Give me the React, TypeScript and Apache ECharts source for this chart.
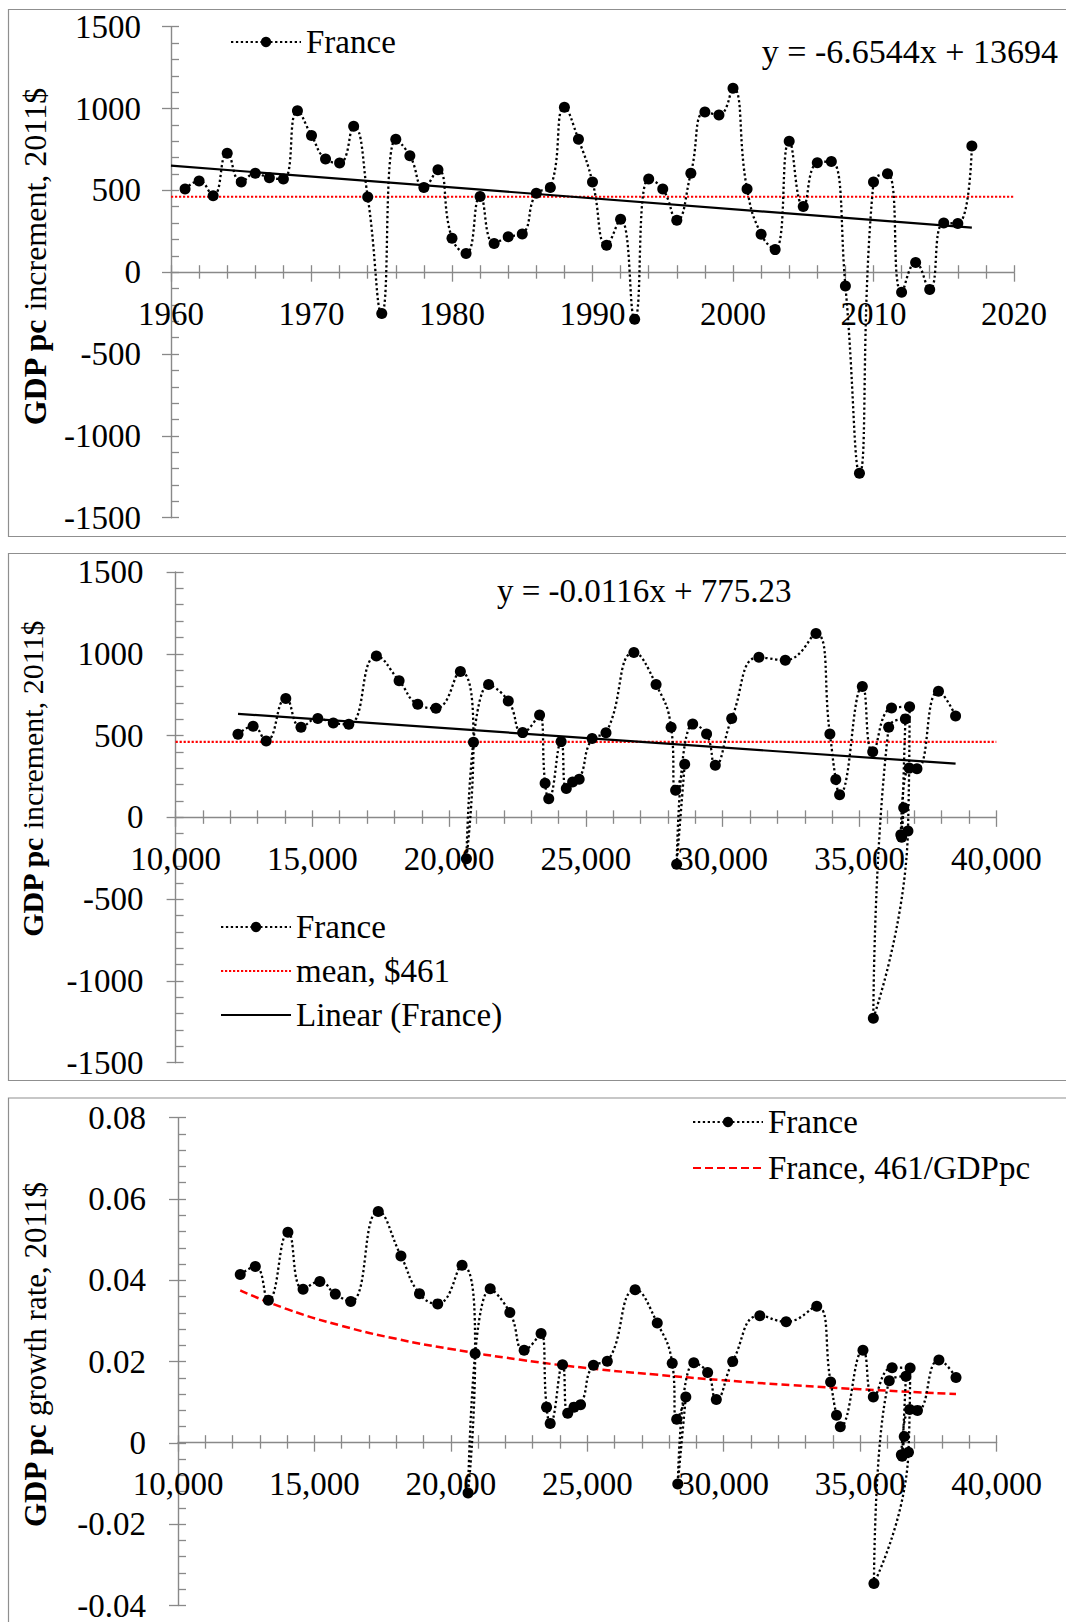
import React, { useEffect, useRef } from "react";
import * as echarts from "echarts";

// ---------------- data ----------------
const years = [
  1961, 1962, 1963, 1964, 1965, 1966, 1967, 1968, 1969, 1970,
  1971, 1972, 1973, 1974, 1975, 1976, 1977, 1978, 1979, 1980,
  1981, 1982, 1983, 1984, 1985, 1986, 1987, 1988, 1989, 1990,
  1991, 1992, 1993, 1994, 1995, 1996, 1997, 1998, 1999, 2000,
  2001, 2002, 2003, 2004, 2005, 2006, 2007, 2008, 2009, 2010,
  2011, 2012, 2013, 2014, 2015, 2016, 2017, 2018,
];

// GDP per capita increment, 2011$
const increment = [
  508, 557, 467, 727, 551, 604, 577, 569, 986, 835,
  692, 667, 892, 459, -253, 812, 712, 518, 626, 208,
  114, 463, 176, 216, 233, 482, 517, 1008, 812, 551,
  165, 324, -287, 570, 509, 318, 605, 979, 961, 1124,
  509, 232, 138, 800, 401, 669, 676, -84, -1228, 551,
  602, -122, 59, -106, 301, 297, 771, 620,
];

// GDP per capita level, 2011$
const gdpPc = [
  12281, 12833, 13312, 14028, 14584, 15198, 15765, 16331, 17340, 18170,
  18850, 19518, 20410, 20889, 20630, 21441, 22161, 22685, 23305, 23507,
  23640, 24092, 24282, 24512, 24753, 25225, 25733, 26753, 27564, 28113,
  28277, 28610, 28316, 28902, 29410, 29728, 30328, 31322, 32287, 33409,
  33917, 34133, 34272, 35102, 35482, 36170, 36831, 36770, 35505, 36066,
  36677, 36540, 36615, 36510, 36815, 37100, 37886, 38512,
];

// GDP per capita growth rate
const growthRate = [
  0.0414, 0.0434, 0.0351, 0.0518, 0.0378, 0.0397, 0.0366, 0.0348, 0.0569, 0.046,
  0.0367, 0.0342, 0.0437, 0.022, -0.0123, 0.0379, 0.0321, 0.0228, 0.0269, 0.0088,
  0.0048, 0.0192, 0.0073, 0.0088, 0.0094, 0.0191, 0.0201, 0.0377, 0.0295, 0.0196,
  0.0058, 0.0113, -0.0101, 0.0197, 0.0173, 0.0107, 0.02, 0.0313, 0.0298, 0.0336,
  0.015, 0.0068, 0.004, 0.0228, 0.0113, 0.0185, 0.0184, -0.0023, -0.0346, 0.0153,
  0.0164, -0.0033, 0.0016, -0.0029, 0.0082, 0.008, 0.0204, 0.0161,
];

const lastYearTopPanel = 2017;

const meanValue = 461;
const meanYearX = [1960, 2020];
const meanGdpX = [10000, 40000];

const trendYearX = [1960, 2017];
const trendYearY = [651, 272];
const trendGdpX = [12281, 38512];
const trendGdpY = [633, 328];

const ratioCurveX = [12281, 14000, 16000, 18000, 20000, 22500, 25000, 27500, 30000, 32500, 35000, 38512];
const ratioCurveY = [0.0375, 0.0329, 0.0288, 0.0256, 0.0231, 0.0205, 0.0184, 0.0168, 0.0154, 0.0142, 0.0132, 0.012];

const yearTicks = { min: 1960, max: 2020, interval: 10 };
const incrementTicks = { min: -1500, max: 1500, interval: 500 };
const gdpTicks = { min: 10000, max: 40000, interval: 5000 };
const growthTicks = { min: -0.04, max: 0.08, interval: 0.02 };

const equationTop = "y = -6.6544x + 13694";
const equationMiddle = "y = -0.0116x + 775.23";

// ---------------- styling / layout ----------------
const FONT = '"Liberation Serif", "Times New Roman", serif';
const AXIS_GRAY = "#898989";
const BORDER_GRAY = "#8f8f8f";
const LABEL_SIZE = 33;

const grids = [
  { left: 171, top: 26.7, width: 843, height: 491 },
  { left: 175.6, top: 572, width: 820.7, height: 490.7 },
  { left: 178, top: 1117.7, width: 818.6, height: 490 },
];

// distance from the grid's bottom edge up to the value 0 of its y axis
function zeroOffset(gridIdx: number, t: { min: number; max: number }) {
  return -grids[gridIdx].height * (0 - t.min) / (t.max - t.min);
}

const fmtPlain = (v: number) => String(v);
const fmtComma = (v: number) => v.toLocaleString("en-US");
const fmtRate = (v: number) => (Math.abs(v) < 1e-9 ? "0" : v.toFixed(2));

function mainAxis(dim: "x" | "y", gridIndex: number, t: any, formatter: any, margin: number, offset = 0) {
  const tickLine = { color: AXIS_GRAY, width: 1.3 };
  return {
    type: "value",
    gridIndex,
    position: dim === "x" ? "bottom" : "left",
    offset,
    min: t.min,
    max: t.max,
    interval: t.interval,
    axisLine: { show: true, onZero: false, lineStyle: { color: AXIS_GRAY, width: 1.4 } },
    axisTick: { show: true, inside: true, length: dim === "x" ? 7 : 8, lineStyle: tickLine },
    minorTick: { show: true, splitNumber: 5, length: dim === "x" ? 7 : 8, lineStyle: tickLine },
    axisLabel: {
      show: true,
      formatter,
      margin,
      color: "#000",
      fontSize: LABEL_SIZE,
      fontFamily: FONT,
      showMinLabel: true,
      showMaxLabel: true,
    },
    splitLine: { show: false },
    minorSplitLine: { show: false },
  };
}

function overlayAxis(dim: "x" | "y", gridIndex: number, t: any, offset = 0) {
  const tickLine = { color: AXIS_GRAY, width: 1.3 };
  return {
    type: "value",
    gridIndex,
    position: dim === "x" ? "bottom" : "left",
    offset,
    min: t.min,
    max: t.max,
    interval: t.interval,
    axisLine: { show: false, onZero: false },
    axisTick: { show: true, inside: false, length: dim === "x" ? 9.5 : 9, lineStyle: tickLine },
    minorTick: { show: dim === "x", splitNumber: 5, length: 6.5, lineStyle: tickLine },
    axisLabel: { show: false },
    splitLine: { show: false },
    minorSplitLine: { show: false },
  };
}

const franceLine = { color: "#000", width: 2.3, type: [2.3, 2.6] };
const meanLine = { color: "#ff0000", width: 2.2, type: [2.2, 1.8] };
const trendLine = { color: "#000", width: 2.2, type: "solid" };
const ratioLine = { color: "#ff0000", width: 2.5, type: [8, 4] };

function franceSeries(xi: number, yi: number, data: number[][]) {
  return {
    name: "France",
    type: "line",
    xAxisIndex: xi,
    yAxisIndex: yi,
    data,
    smooth: true,
    symbol: "circle",
    symbolSize: 11,
    showSymbol: true,
    showAllSymbol: true,
    itemStyle: { color: "#000" },
    lineStyle: franceLine,
    z: 4,
  };
}

function plainLine(name: string, xi: number, yi: number, data: number[][], style: any, smooth = false) {
  return {
    name,
    type: "line",
    xAxisIndex: xi,
    yAxisIndex: yi,
    data,
    smooth,
    symbol: "none",
    itemStyle: { color: style.color },
    lineStyle: style,
    z: 3,
  };
}

function yTitle(x: number, y: number, rest: string, size: number) {
  return {
    type: "text",
    x,
    y,
    rotation: Math.PI / 2,
    z: 10,
    style: {
      text: "{b|GDP pc }{n|" + rest + "}",
      rich: {
        b: { fontFamily: FONT, fontSize: size, fontWeight: "bold", fill: "#000" },
        n: { fontFamily: FONT, fontSize: size, fontWeight: "normal", fill: "#000" },
      },
      align: "center",
      verticalAlign: "middle",
      fill: "#000",
    },
  };
}

const legendText = { color: "#000", fontSize: LABEL_SIZE, fontFamily: FONT };

export default function App() {
  const ref = useRef<HTMLDivElement>(null);

  useEffect(() => {
    if (!ref.current) return;
    const chart = echarts.init(ref.current, undefined, { renderer: "svg" });

    const topData: number[][] = [];
    years.forEach((yr, i) => {
      if (yr <= lastYearTopPanel) topData.push([yr, increment[i]]);
    });
    const midData = gdpPc.map((g, i) => [g, increment[i]]);
    const botData = gdpPc.map((g, i) => [g, growthRate[i]]);

    const off0 = zeroOffset(0, incrementTicks);
    const off1 = zeroOffset(1, incrementTicks);
    const off2 = zeroOffset(2, growthTicks);

    const option: any = {
      animation: false,
      backgroundColor: "#fff",
      grid: grids,
      xAxis: [
        mainAxis("x", 0, yearTicks, fmtPlain, 25, off0),
        overlayAxis("x", 0, yearTicks, off0),
        mainAxis("x", 1, gdpTicks, fmtComma, 25, off1),
        overlayAxis("x", 1, gdpTicks, off1),
        mainAxis("x", 2, gdpTicks, fmtComma, 25, off2),
        overlayAxis("x", 2, gdpTicks, off2),
      ],
      yAxis: [
        mainAxis("y", 0, incrementTicks, fmtPlain, 30),
        overlayAxis("y", 0, incrementTicks),
        mainAxis("y", 1, incrementTicks, fmtPlain, 32),
        overlayAxis("y", 1, incrementTicks),
        mainAxis("y", 2, growthTicks, fmtRate, 32),
        overlayAxis("y", 2, growthTicks),
      ],
      legend: [
        {
          left: 230,
          top: 25.5,
          orient: "vertical",
          padding: 0,
          itemWidth: 70,
          itemHeight: 13,
          selectedMode: false,
          textStyle: legendText,
          data: ["France"],
        },
        {
          left: 220,
          top: 910.5,
          orient: "vertical",
          padding: 0,
          itemGap: 11,
          itemWidth: 70,
          itemHeight: 13,
          selectedMode: false,
          textStyle: legendText,
          data: [
            "France",
            { name: "mean, $461", itemStyle: { opacity: 0 } },
            { name: "Linear (France)", itemStyle: { opacity: 0 } },
          ],
        },
        {
          left: 692,
          top: 1105.5,
          orient: "vertical",
          padding: 0,
          itemGap: 13,
          itemWidth: 70,
          itemHeight: 13,
          selectedMode: false,
          textStyle: legendText,
          data: ["France", { name: "France, 461/GDPpc", itemStyle: { opacity: 0 } }],
        },
      ],
      series: [
        // panel 1: by year
        plainLine("mean, $461", 0, 0, meanYearX.map((x) => [x, meanValue]), meanLine),
        plainLine("Linear (France)", 0, 0, trendYearX.map((x, i) => [x, trendYearY[i]]), trendLine),
        franceSeries(0, 0, topData),
        // panel 2: by GDP pc
        plainLine("mean, $461", 2, 2, meanGdpX.map((x) => [x, meanValue]), meanLine),
        plainLine("Linear (France)", 2, 2, trendGdpX.map((x, i) => [x, trendGdpY[i]]), trendLine),
        franceSeries(2, 2, midData),
        // panel 3: growth rate
        plainLine("France, 461/GDPpc", 4, 4, ratioCurveX.map((x, i) => [x, ratioCurveY[i]]), ratioLine, true),
        franceSeries(4, 4, botData),
      ],
      graphic: [
        { type: "rect", z: 0, shape: { x: 8.5, y: 9.5, width: 1100, height: 527 }, style: { fill: "none", stroke: BORDER_GRAY, lineWidth: 1.2 } },
        { type: "rect", z: 0, shape: { x: 8.5, y: 553.5, width: 1100, height: 527 }, style: { fill: "none", stroke: BORDER_GRAY, lineWidth: 1.2 } },
        { type: "rect", z: 0, shape: { x: 8.5, y: 1098, width: 1100, height: 600 }, style: { fill: "none", stroke: BORDER_GRAY, lineWidth: 1.2 } },
        yTitle(35, 257, "increment, 2011$", 32),
        yTitle(32, 779, "increment, 2011$", 30),
        yTitle(35, 1355, "growth rate, 2011$", 31),
        {
          type: "text",
          x: 1058,
          y: 51,
          z: 10,
          style: { text: equationTop, fontFamily: FONT, fontSize: 34, fill: "#000", align: "right", verticalAlign: "middle" },
        },
        {
          type: "text",
          x: 497,
          y: 591,
          z: 10,
          style: { text: equationMiddle, fontFamily: FONT, fontSize: LABEL_SIZE, fill: "#000", align: "left", verticalAlign: "middle" },
        },
      ],
    };

    chart.setOption(option);
    return () => chart.dispose();
  }, []);

  return (
    <div
      ref={ref}
      style={{ position: "absolute", left: 0, top: 0, width: 1066, height: 1622, background: "#fff" }}
    />
  );
}
